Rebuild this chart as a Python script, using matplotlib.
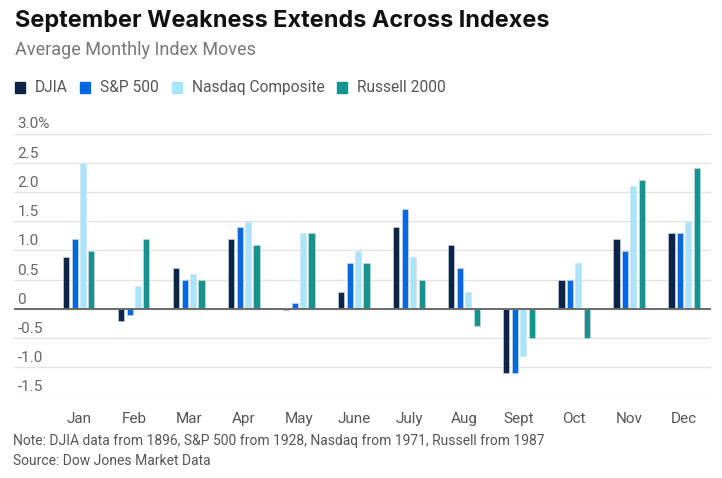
import numpy as np
import matplotlib
matplotlib.use("Agg")
from matplotlib import pyplot as plt
from matplotlib.patches import Rectangle

plt.rcParams['font.family'] = ['Roboto', 'DejaVu Sans']

months = ["Jan", "Feb", "Mar", "Apr", "May", "June", "July", "Aug", "Sept", "Oct", "Nov", "Dec"]
series_names = ["DJIA", "S&P 500", "Nasdaq Composite", "Russell 2000"]
djia = [0.89, -0.21, 0.70, 1.20, -0.02, 0.29, 1.40, 1.10, -1.10, 0.50, 1.20, 1.30]
sp500 = [1.20, -0.11, 0.50, 1.40, 0.10, 0.79, 1.71, 0.70, -1.10, 0.50, 0.99, 1.30]
nasdaq = [2.50, 0.39, 0.60, 1.49, 1.30, 0.99, 0.89, 0.29, -0.81, 0.79, 2.10, 1.49]
russell = [0.99, 1.20, 0.50, 1.10, 1.30, 0.79, 0.50, -0.30, -0.50, -0.50, 2.21, 2.41]
colors = ["#0b2447", "#0369e3", "#a9e5ff", "#17938f"]
yticks = [-1.5, -1.0, -0.5, 0, 0.5, 1.0, 1.5, 2.0, 2.5, 3.0]
ytick_labels = ["-1.5", "-1.0", "-0.5", "0", "0.5", "1.0", "1.5", "2.0", "2.5", "3.0%"]

fig = plt.figure(figsize=(7.22, 4.78), dpi=100)
ax = fig.add_axes([14 / 722, 1 - 396.5 / 478, 697 / 722, 263 / 478])

x = np.arange(len(months))
step = 0.152
width = 0.11
for i, vals in enumerate([djia, sp500, nasdaq, russell]):
    ax.bar(x + (i - 1.5) * step, vals, width, color=colors[i],
           edgecolor="#d9dde3", linewidth=0.4, zorder=3)

ax.set_xlim(-1.18, 11.49)
ax.set_ylim(-1.5, 3.0)
for yv in yticks:
    ax.axhline(yv, color="#e3e3e3", lw=1.0, zorder=1)
ax.axhline(0, color="#6b6b6b", lw=1.4, zorder=4)
for yv, lab in zip(yticks, ytick_labels):
    ax.text(-1.12, yv + 0.155, lab, ha="left", va="center", fontsize=11,
            color="#666666", clip_on=False)

ax.set_xticks(x)
ax.set_xticklabels(months, fontsize=11, color="#555555")
ax.tick_params(axis="x", length=0, pad=11)
ax.set_yticks([])
for s in ax.spines.values():
    s.set_visible(False)

fig.text(15 / 722, 1 - 26.7 / 478, "September Weakness Extends Across Indexes",
         fontsize=16.9, fontweight="bold", color="#111111", va="baseline",
         family=["Inter", "Roboto"])
fig.text(15 / 722, 1 - 55 / 478, "Average Monthly Index Moves",
         fontsize=13, color="#777777", va="baseline")

# legend laid out by hand, measuring each label
fig.canvas.draw()
renderer = fig.canvas.get_renderer()
xpos = 15
for name, c in zip(series_names, colors):
    fig.patches.append(Rectangle((xpos / 722, 1 - 93 / 478), 10 / 722, 11.5 / 478,
                                 transform=fig.transFigure, color=c, figure=fig))
    t = fig.text((xpos + 20) / 722, 1 - 87.5 / 478, name, fontsize=11.2,
                 color="#555555", va="center")
    bb = t.get_window_extent(renderer)
    xpos = bb.x1 + 12.5

fig.text(13 / 722, 1 - 445 / 478,
         "Note: DJIA data from 1896, S&P 500 from 1928, Nasdaq from 1971, Russell from 1987",
         fontsize=10, color="#555555", va="baseline")
fig.text(13 / 722, 1 - 465 / 478, "Source: Dow Jones Market Data",
         fontsize=10, color="#555555", va="baseline")

fig.savefig("out.png", dpi=100)
